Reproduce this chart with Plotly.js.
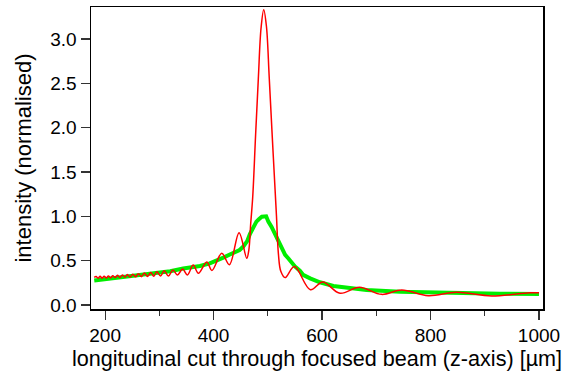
<!DOCTYPE html>
<html>
<head>
<meta charset="utf-8">
<script src="https://cdn.plot.ly/plotly-3.0.1.min.js"></script>
<style>html,body{margin:0;padding:0;background:#fff;}#chart{width:583px;height:372px;}</style>
</head>
<body>
<div id="chart"></div>
<script>
// Red curve: simulated / theoretical intensity (peaks and troughs)
const redX = [180, 183.4, 187.1, 190.8, 194.5, 198.2, 202.1, 206.1, 210.1, 214.2, 218.4, 222.7, 227.3, 231.9, 236.5,
  241.1, 246.1, 251.1, 256.2, 261.4, 266.9, 272.4, 278.3, 284.2, 289.8, 295.5, 302.2, 309, 316.7, 325, 333.3,
  343, 351.7, 362.5, 372, 387.4, 397, 415, 429.2, 447, 461.2, 465, 468.5, 472.2, 477.5, 482.5, 487.5, 492.5,
  497.5, 502.5, 507.5, 513.4, 516, 519.5, 524, 531.8, 549, 578.5, 601.3, 633.2, 668.8, 709.9, 746.8, 795.8,
  848.1, 912.8, 983.4, 1000];
const redY = [0.312, 0.322, 0.302, 0.323, 0.303, 0.325, 0.305, 0.328, 0.307, 0.331, 0.309, 0.335, 0.311, 0.339, 0.313,
  0.343, 0.315, 0.348, 0.318, 0.353, 0.320, 0.360, 0.322, 0.366, 0.325, 0.374, 0.327, 0.385, 0.327, 0.395, 0.339,
  0.405, 0.339, 0.450, 0.358, 0.485, 0.390, 0.583, 0.455, 0.816, 0.527, 0.62, 0.92, 1.22, 1.92, 2.55, 3.12, 3.33,
  3.14, 2.58, 1.98, 1.30, 1.00, 0.58, 0.38, 0.309, 0.433, 0.172, 0.260, 0.132, 0.200, 0.120, 0.169, 0.105,
  0.143, 0.102, 0.139, 0.137];

// Green curve: measured intensity
const greenX = [180, 200, 234, 260, 283, 295, 320, 344, 375, 393, 406, 418, 430, 448, 455, 462, 467, 473, 479, 484,
  489, 497, 501, 507, 513, 518, 526, 532, 538, 550, 559, 565, 578, 596, 621, 652, 682, 744, 805, 867, 928, 1000];
const greenY = [0.276, 0.290, 0.316, 0.335, 0.350, 0.355, 0.380, 0.412, 0.440, 0.470, 0.500, 0.535, 0.570, 0.620, 0.660,
  0.720, 0.800, 0.880, 0.940, 0.970, 0.995, 1.000, 0.940, 0.880, 0.800, 0.740, 0.640, 0.565, 0.525, 0.435, 0.387,
  0.340, 0.300, 0.256, 0.214, 0.188, 0.169, 0.150, 0.139, 0.132, 0.128, 0.124];

const xTickVals = [200, 400, 600, 800, 1000];
const xTickText = ['200', '400', '600', '800', '1000'];
const yTickVals = [0, 0.5, 1.0, 1.5, 2.0, 2.5, 3.0];
const yTickText = ['0.0', '0.5', '1.0', '1.5', '2.0', '2.5', '3.0'];

const traces = [
  {x: greenX, y: greenY, type: 'scatter', mode: 'lines', name: 'measured',
   line: {color: '#00ee00', width: 4, shape: 'linear'}},
  {x: redX, y: redY, type: 'scatter', mode: 'lines', name: 'calculated',
   line: {color: '#ff0000', width: 1.5, shape: 'spline', smoothing: 1}}
];

const font = "'Liberation Sans', Arial, Helvetica, sans-serif";
const layout = {
  width: 583, height: 372,
  margin: {l: 91, r: 40, t: 7, b: 63, pad: 0},
  paper_bgcolor: '#fff', plot_bgcolor: '#fff',
  showlegend: false,
  font: {family: font, color: '#000'},
  xaxis: {
    range: [174, 1007.4], showgrid: false, zeroline: false,
    showline: true, mirror: true, linecolor: '#000', linewidth: 1.5,
    ticks: 'outside', ticklen: 9, tickwidth: 1.2, tickcolor: '#333',
    tickmode: 'array', tickvals: xTickVals, ticktext: xTickText,
    tickfont: {size: 19, family: font},
    minor: {ticks: 'outside', ticklen: 5, tickwidth: 1.2, tickcolor: '#333', dtick: 100, tick0: 0, showgrid: false},
    title: {text: 'longitudinal cut through focused beam (z-axis) [µm]', font: {size: 21.6, family: font}, standoff: 4}
  },
  yaxis: {
    range: [-0.045, 3.36], showgrid: false, zeroline: false,
    showline: true, mirror: true, linecolor: '#000', linewidth: 1.5,
    ticks: 'outside', ticklen: 9, tickwidth: 1.2, tickcolor: '#333',
    tickmode: 'array', tickvals: yTickVals, ticktext: yTickText,
    tickfont: {size: 19, family: font},
    title: {text: 'intensity (normalised)', font: {size: 22, family: font}, standoff: 12}
  }
};

Plotly.newPlot('chart', traces, layout, {staticPlot: true, displayModeBar: false});
</script>
</body>
</html>
